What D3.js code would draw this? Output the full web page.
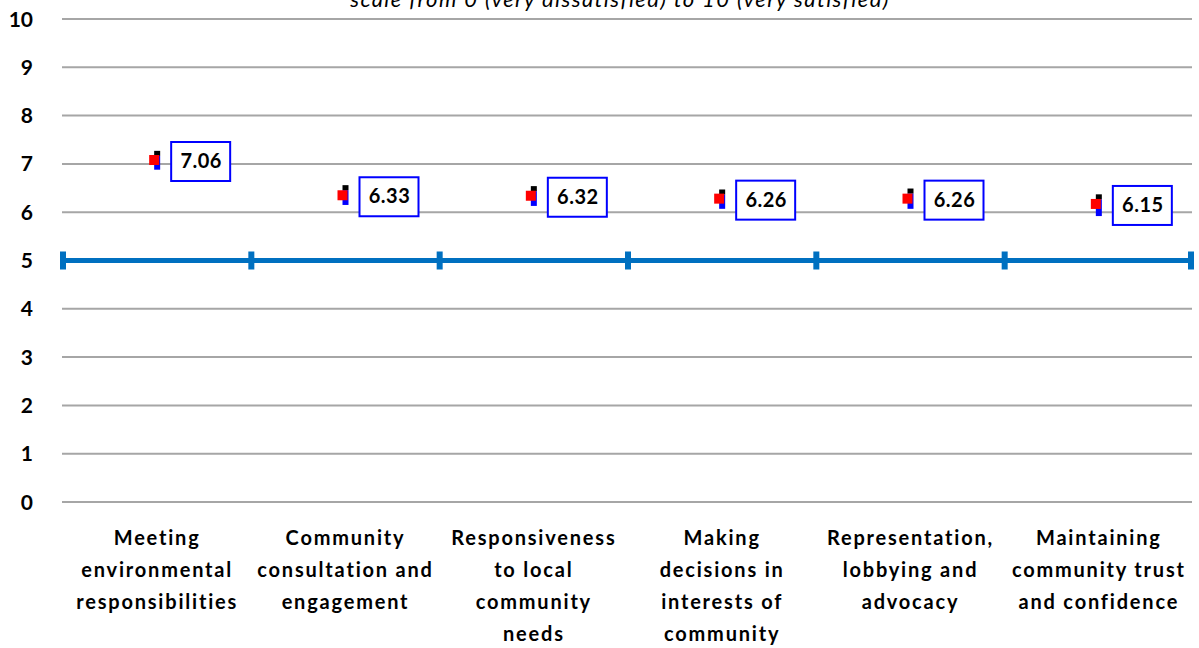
<!DOCTYPE html>
<html>
<head>
<meta charset="utf-8">
<script src="https://cdn.jsdelivr.net/npm/d3@7"></script>
<style>
  body { margin: 0; background: #fff; }
  svg { display: block; font-family: Lato, "Open Sans", sans-serif; }
</style>
</head>
<body>
<div id="chart"></div>
<script>
// categories, mean scores and the small high / low marks around each mean
var categories = [
  ["Meeting", "environmental", "responsibilities"],
  ["Community", "consultation and", "engagement"],
  ["Responsiveness", "to local", "community", "needs"],
  ["Making", "decisions in", "interests of", "community"],
  ["Representation,", "lobbying and", "advocacy"],
  ["Maintaining", "community trust", "and confidence"]
];
var means = [7.06, 6.33, 6.32, 6.26, 6.26, 6.15];
var highs = [7.27, 6.56, 6.54, 6.47, 6.49, 6.37];
var lows = [6.88, 6.15, 6.13, 6.07, 6.07, 5.92];
var yTicks = [0, 1, 2, 3, 4, 5, 6, 7, 8, 9, 10];
var benchmark = 5;
var subtitle = "scale from 0 (very dissatisfied) to 10 (very satisfied)";

var width = 1199, height = 648;
var plotLeft = 62, plotRight = 1192, plotTop = 19, plotBottom = 502;

var svg = d3.select("#chart").append("svg")
    .attr("width", width)
    .attr("height", height);

var x = d3.scaleBand()
    .domain(d3.range(categories.length))
    .range([plotLeft, plotRight])
    .padding(0);

var y = d3.scaleLinear()
    .domain([0, 10])
    .range([plotBottom, plotTop]);

// subtitle, cut off at the top like the original
svg.append("text")
    .attr("x", 620)
    .attr("y", 7)
    .attr("text-anchor", "middle")
    .style("font-style", "italic")
    .style("font-size", "22px")
    .style("letter-spacing", "1.4px")
    .attr("fill", "#000")
    .text(subtitle);

// gridlines
svg.append("g").selectAll("line")
    .data(yTicks.filter(function(d) { return d != benchmark; }))
    .enter().append("line")
    .attr("x1", plotLeft)
    .attr("x2", plotRight)
    .attr("y1", function(d) { return y(d); })
    .attr("y2", function(d) { return y(d); })
    .attr("stroke", "#a6a6a6")
    .attr("stroke-width", 2);

// y labels
svg.append("g").selectAll("text")
    .data(yTicks)
    .enter().append("text")
    .attr("x", 33)
    .attr("y", function(d) { return y(d); })
    .attr("dy", "0.36em")
    .attr("text-anchor", "end")
    .style("font-weight", "bold")
    .style("font-size", "21px")
    .text(function(d) { return d; });

// benchmark line at 5 with ticks between categories
svg.append("line")
    .attr("x1", plotLeft)
    .attr("x2", plotRight)
    .attr("y1", y(benchmark))
    .attr("y2", y(benchmark))
    .attr("stroke", "#0070c0")
    .attr("stroke-width", 5);

var bounds = d3.range(categories.length).map(function(i) { return x(i); }).concat([plotRight]);
svg.append("g").selectAll("rect")
    .data(bounds)
    .enter().append("rect")
    .attr("x", function(d, i) { return i == bounds.length - 1 ? d - 4 : d - 2; })
    .attr("y", y(benchmark) - 9)
    .attr("width", 6)
    .attr("height", 18)
    .attr("fill", "#0070c0");

// markers
var mk = svg.append("g").selectAll("g")
    .data(means)
    .enter().append("g")
    .attr("transform", function(d, i) { return "translate(" + (x(i) + x.bandwidth() / 2) + ",0)"; });

mk.append("rect")
    .attr("x", -2)
    .attr("y", function(d, i) { return y(highs[i]) + 5; })
    .attr("width", 6)
    .attr("height", function(d, i) { return y(lows[i]) - y(highs[i]) - 5; })
    .attr("fill", "#0000ff");

mk.append("rect")
    .attr("x", -2)
    .attr("y", function(d, i) { return y(highs[i]); })
    .attr("width", 6)
    .attr("height", 5)
    .attr("fill", "#000");

mk.append("rect")
    .attr("x", -7)
    .attr("y", function(d) { return y(d) - 6; })
    .attr("width", 10)
    .attr("height", 10)
    .attr("fill", "#ff0000");

// value boxes
mk.append("rect")
    .attr("x", 15)
    .attr("y", function(d) { return y(d) - 19; })
    .attr("width", 59)
    .attr("height", 39)
    .attr("fill", "#fff")
    .attr("stroke", "#0000ff")
    .attr("stroke-width", 2);

mk.append("text")
    .attr("x", 45)
    .attr("y", function(d) { return y(d); })
    .attr("dy", "0.36em")
    .attr("text-anchor", "middle")
    .style("font-weight", "bold")
    .style("font-size", "20px")
    .style("letter-spacing", "0.5px")
    .text(function(d) { return d.toFixed(2); });

// category labels
var cl = svg.append("g").selectAll("text")
    .data(categories)
    .enter().append("text")
    .attr("text-anchor", "middle")
    .attr("x", function(d, i) { return x(i) + x.bandwidth() / 2 + 1; })
    .attr("y", 545)
    .style("font-weight", "bold")
    .style("font-size", "20px")
    .style("letter-spacing", "1.8px");

cl.selectAll("tspan")
    .data(function(d) { return d; })
    .enter().append("tspan")
    .attr("x", function() { return d3.select(this.parentNode).attr("x"); })
    .attr("dy", function(d, j) { return j == 0 ? 0 : 32; })
    .text(function(d) { return d; });
</script>
</body>
</html>
